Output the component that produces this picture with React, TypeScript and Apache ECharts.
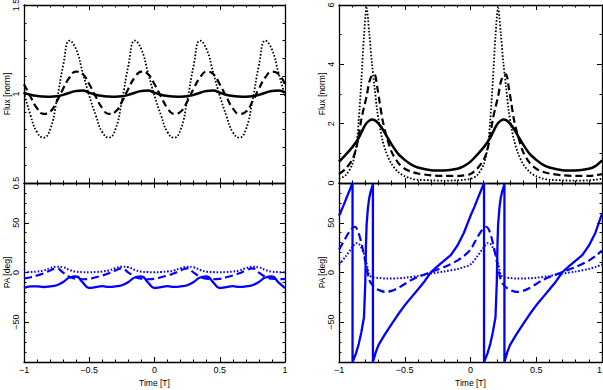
import React, { useEffect, useRef } from "react";
import * as echarts from "echarts";

// ---------- data ----------
const LEFT_T = [
  -1.0, -0.95, -0.9, -0.85, -0.8, -0.75, -0.7, -0.65, -0.6, -0.55,
  -0.5, -0.45, -0.4, -0.35, -0.3, -0.25, -0.2, -0.15, -0.1, -0.05,
  0.0, 0.05, 0.1, 0.15, 0.2, 0.25, 0.3, 0.35, 0.4, 0.45,
  0.5, 0.55, 0.6, 0.65, 0.7, 0.75, 0.8, 0.85, 0.9, 0.95, 1.0,
];
const LT_DOTTED = [
  1.01, 0.88, 0.785, 0.755, 0.8, 0.96, 1.16, 1.3, 1.25, 1.12,
  0.99, 0.88, 0.785, 0.755, 0.8, 0.96, 1.16, 1.3, 1.25, 1.12,
  0.99, 0.88, 0.785, 0.755, 0.8, 0.96, 1.16, 1.3, 1.25, 1.12,
  0.99, 0.88, 0.785, 0.755, 0.8, 0.96, 1.16, 1.3, 1.25, 1.12, 0.99,
];
const LT_DASHED = [
  1.055, 0.985, 0.92, 0.888, 0.9, 0.956, 1.03, 1.094, 1.126, 1.112,
  1.055, 0.985, 0.92, 0.888, 0.9, 0.956, 1.03, 1.094, 1.126, 1.112,
  1.055, 0.985, 0.92, 0.888, 0.9, 0.956, 1.03, 1.094, 1.126, 1.112,
  1.055, 0.985, 0.92, 0.888, 0.9, 0.956, 1.03, 1.094, 1.126, 1.112, 1.055,
];
const LT_SOLID = [
  1.008, 0.996, 0.989, 0.986, 0.985, 0.987, 0.995, 1.007, 1.017, 1.019,
  1.008, 0.996, 0.989, 0.986, 0.985, 0.987, 0.995, 1.007, 1.017, 1.019,
  1.008, 0.996, 0.989, 0.986, 0.985, 0.987, 0.995, 1.007, 1.017, 1.019,
  1.008, 0.996, 0.989, 0.986, 0.985, 0.987, 0.995, 1.007, 1.017, 1.019, 1.008,
];
const LB_DOTTED = [
  0.3, 0.5, 1.0, 2.1, 4.3, 5.8, 5.2, 2.5, 0.8, 0.4,
  0.3, 0.5, 1.0, 2.1, 4.3, 5.8, 5.2, 2.5, 0.8, 0.4,
  0.3, 0.5, 1.0, 2.1, 4.3, 5.8, 5.2, 2.5, 0.8, 0.4,
  0.3, 0.5, 1.0, 2.1, 4.3, 5.8, 5.2, 2.5, 0.8, 0.4, 0.3,
];
const LB_DASHED = [
  -6.0, -4.8, -3.0, -0.8, 2.0, 4.2, -0.2, -4.4, -6.3, -6.8,
  -6.4, -4.8, -3.0, -0.8, 2.0, 4.2, -0.2, -4.4, -6.3, -6.8,
  -6.4, -4.8, -3.0, -0.8, 2.0, 4.2, -0.2, -4.4, -6.3, -6.8,
  -6.4, -4.8, -3.0, -0.8, 2.0, 4.2, -0.2, -4.4, -6.3, -6.8, -6.4,
];
const LB_SOLID = [
  -15.5, -14.0, -13.9, -14.6, -14.0, -12.8, -9.5, -5.0, -4.0, -10.0,
  -15.6, -14.6, -13.8, -14.5, -14.0, -12.8, -9.5, -5.0, -4.0, -10.0,
  -15.6, -14.6, -13.8, -14.5, -14.0, -12.8, -9.5, -5.0, -4.0, -10.0,
  -15.6, -14.6, -13.8, -14.5, -14.0, -12.8, -9.5, -5.0, -4.0, -10.0, -15.6,
];

const RT_T = [
  -1.0, -0.95, -0.9, -0.87, -0.85, -0.83, -0.81, -0.79, -0.77, -0.75, -0.73, -0.71,
  -0.69, -0.67, -0.64, -0.6, -0.55, -0.5, -0.45, -0.4, -0.3, -0.2, -0.1, -0.05,
  0.0, 0.05, 0.1, 0.13, 0.15, 0.17, 0.19, 0.21, 0.23, 0.25, 0.27, 0.29,
  0.31, 0.33, 0.36, 0.4, 0.45, 0.5, 0.55, 0.6, 0.7, 0.8, 0.9, 0.95, 1.0,
];
const RT_DOTTED = [
  0.14, 0.26, 0.62, 1.2, 2.1, 3.45, 4.95, 5.9, 5.05, 4.05, 3.25, 2.45,
  1.9, 1.46, 1.02, 0.64, 0.37, 0.23, 0.15, 0.11, 0.09, 0.08, 0.09, 0.11,
  0.14, 0.26, 0.62, 1.2, 2.1, 3.45, 4.95, 5.9, 5.05, 4.05, 3.25, 2.45,
  1.9, 1.46, 1.02, 0.64, 0.37, 0.23, 0.15, 0.11, 0.09, 0.08, 0.09, 0.11, 0.14,
];
const RT_DASHED = [
  0.3, 0.48, 0.78, 1.15, 1.6, 2.15, 2.55, 2.92, 3.4, 3.62, 3.66, 3.25,
  2.7, 2.15, 1.6, 1.05, 0.68, 0.48, 0.38, 0.32, 0.26, 0.24, 0.24, 0.26,
  0.3, 0.48, 0.78, 1.15, 1.6, 2.15, 2.55, 2.92, 3.4, 3.62, 3.66, 3.25,
  2.7, 2.15, 1.6, 1.05, 0.68, 0.48, 0.38, 0.32, 0.26, 0.24, 0.24, 0.26, 0.3,
];
const RT_SOLID = [
  0.72, 0.95, 1.2, 1.38, 1.52, 1.7, 1.88, 2.02, 2.1, 2.14, 2.12, 2.05,
  1.95, 1.83, 1.6, 1.3, 0.98, 0.78, 0.62, 0.52, 0.43, 0.42, 0.48, 0.57,
  0.72, 0.95, 1.2, 1.38, 1.52, 1.7, 1.88, 2.02, 2.1, 2.14, 2.12, 2.05,
  1.95, 1.83, 1.6, 1.3, 0.98, 0.78, 0.62, 0.52, 0.43, 0.42, 0.48, 0.57, 0.76,
];

const RB_SOLID_T = [
  -1.0, -0.97, -0.94, -0.92, -0.897, -0.897, -0.885, -0.87, -0.85, -0.83, -0.81, -0.8,
  -0.795, -0.79, -0.78, -0.77, -0.76, -0.75, -0.742, -0.742, -0.72, -0.7, -0.65, -0.6,
  -0.55, -0.5, -0.45, -0.4, -0.35, -0.3, -0.25, -0.2, -0.15, -0.1, -0.05,
  0.0, 0.03, 0.06, 0.08, 0.103, 0.103, 0.115, 0.13, 0.15, 0.17, 0.19, 0.2,
  0.205, 0.21, 0.22, 0.23, 0.24, 0.25, 0.258, 0.258, 0.28, 0.3, 0.35, 0.4,
  0.45, 0.5, 0.55, 0.6, 0.65, 0.7, 0.75, 0.8, 0.85, 0.9, 0.95, 1.0,
];
const RB_SOLID = [
  57, 66, 76, 82.5, 90, -90, -86, -81, -72, -60, -45, -10,
  28, 48, 65, 75, 81, 85, 89, -90, -80, -73, -62, -52,
  -42, -33, -25, -17, -9, 0.5, 6.5, 12, 17.5, 27, 40,
  57, 66, 76, 82.5, 90, -90, -86, -81, -72, -60, -45, -10,
  28, 48, 65, 75, 81, 85, 89, -90, -80, -73, -62, -52,
  -42, -33, -25, -17, -9, 0.5, 6.5, 12, 17.5, 27, 40, 59,
];
const RB_DASHED_T = [
  -1.0, -0.97, -0.94, -0.91, -0.88, -0.86, -0.84, -0.82, -0.8, -0.79, -0.78, -0.77, -0.75, -0.72,
  -0.69, -0.65, -0.6, -0.55, -0.5, -0.45, -0.4, -0.35, -0.3, -0.25, -0.2, -0.15, -0.1, -0.05,
  0.0, 0.03, 0.06, 0.09, 0.12, 0.14, 0.16, 0.18, 0.2, 0.21, 0.22, 0.23, 0.25, 0.28,
  0.31, 0.35, 0.4, 0.45, 0.5, 0.55, 0.6, 0.65, 0.7, 0.75, 0.8, 0.85, 0.9, 0.95, 1.0,
];
const RB_DASHED = [
  23, 30, 37, 43, 46, 43, 35, 24, 11, 5, -2, -7.5, -12, -16,
  -18, -19.5, -18.5, -15.5, -11.5, -7.5, -4.5, -2, 0.5, 3, 5.5, 8.5, 12, 16.5,
  23, 30, 37, 43, 46, 43, 35, 24, 11, 5, -2, -7.5, -12, -16,
  -18, -19.5, -18.5, -15.5, -11.5, -7.5, -4.5, -2, 0.5, 3, 5.5, 8.5, 12, 16.5, 22,
];
const RB_DOTTED_T = [
  -1.0, -0.95, -0.9, -0.87, -0.85, -0.83, -0.81, -0.79, -0.78, -0.77, -0.75,
  -0.7, -0.65, -0.6, -0.55, -0.5, -0.4, -0.3, -0.2, -0.1, -0.05,
  0.0, 0.05, 0.1, 0.13, 0.15, 0.17, 0.19, 0.21, 0.22, 0.23, 0.25,
  0.3, 0.35, 0.4, 0.45, 0.5, 0.6, 0.7, 0.8, 0.9, 0.95, 1.0,
];
const RB_DOTTED = [
  8, 16, 25, 29.5, 29, 25, 19, 9, 3, -2.5, -4.5,
  -5.5, -6, -6, -5.8, -5.3, -3.5, -1, 1, 3.5, 5.5,
  8, 16, 25, 29.5, 29, 25, 19, 9, 3, -2.5, -4.5,
  -5.5, -6, -6, -5.8, -5.3, -3.5, -1, 1, 3.5, 5.5, 8,
];

const X_LABELS = [-1, -0.5, 0, 0.5, 1];
const FLUX_L_LABELS = [0.5, 1, 1.5];
const FLUX_R_LABELS = [0, 2, 4, 6];
const PA_LABELS = [-50, 0, 50];

// ---------- styling ----------
const FONT = "'Liberation Sans', Arial, Helvetica, sans-serif";
const BLACK = "#000000";
const BLUE = "#0000ff";
const DASH = [7, 4];
const DOT = [1.6, 1.8];

const fmt = (v: number) => String(v).replace("-", "\u2212");
const pairs = (t: number[], v: number[]) => t.map((x, i) => [x, v[i]]);

const GRIDS = [
  { left: 24, top: 5, width: 261, height: 178 },
  { left: 24, top: 183, width: 261, height: 179 },
  { left: 339, top: 5, width: 263, height: 178 },
  { left: 339, top: 183, width: 263, height: 179 },
];

const frame = { show: true, onZero: false, lineStyle: { color: BLACK, width: 1.3 } };
const labelStyle = { fontSize: 9, fontFamily: FONT, color: BLACK };
const nameStyle = { fontSize: 8.5, fontFamily: FONT, color: BLACK };

function buildOption() {
  const xAxis: any[] = [];
  GRIDS.forEach((_, g) => {
    const bottomPanel = g === 1 || g === 3;
    const base = {
      type: "value",
      gridIndex: g,
      min: -1,
      max: 1,
      interval: 0.5,
      axisLine: frame,
      axisTick: { show: true, inside: true, length: 5, lineStyle: { color: BLACK, width: 1 } },
      minorTick: { show: true, splitNumber: 5, length: 2.5, lineStyle: { color: BLACK, width: 1 } },
      splitLine: { show: false },
      minorSplitLine: { show: false },
    };
    xAxis.push({
      ...base,
      position: "bottom",
      axisLabel: {
        show: bottomPanel,
        ...labelStyle,
        margin: 3,
        showMinLabel: true,
        showMaxLabel: true,
        alignMaxLabel: g === 3 ? "right" : undefined,
        formatter: (v: number) => (X_LABELS.indexOf(v) >= 0 ? fmt(v) : ""),
      },
      name: bottomPanel ? "Time [T]" : "",
      nameLocation: "middle",
      nameGap: 16,
      nameTextStyle: nameStyle,
      nameMoveOverlap: false,
    });
    xAxis.push({ ...base, position: "top", axisLabel: { show: false } });
  });

  const fluxAxis = (g: number, min: number, max: number, interval: number, split: number, labels: number[]) => {
    const base = {
      type: "value",
      gridIndex: g,
      min,
      max,
      interval,
      axisLine: frame,
      axisTick: { show: true, inside: true, length: 5, lineStyle: { color: BLACK, width: 1 } },
      minorTick: { show: true, splitNumber: split, length: 2.5, lineStyle: { color: BLACK, width: 1 } },
      splitLine: { show: false },
      minorSplitLine: { show: false },
    };
    return [
      {
        ...base,
        position: "left",
        axisLabel: {
          show: true,
          ...labelStyle,
          rotate: 90,
          margin: 4,
          showMinLabel: true,
          showMaxLabel: true,
          formatter: (v: number) => (labels.indexOf(v) >= 0 ? fmt(v) : ""),
        },
        name: "Flux [norm]",
        nameLocation: "middle",
        nameRotate: 90,
        nameGap: 13,
        nameTextStyle: nameStyle,
        nameMoveOverlap: false,
      },
      { ...base, position: "right", axisLabel: { show: false } },
    ];
  };

  const paAxes = (g: number) => {
    const base = {
      type: "value",
      gridIndex: g,
      min: -90,
      max: 90,
      interval: 10,
      axisLine: frame,
      axisTick: { show: true, inside: true, length: 2.5, lineStyle: { color: BLACK, width: 1 } },
      splitLine: { show: false },
    };
    const major = {
      type: "value",
      gridIndex: g,
      min: -90,
      max: 90,
      interval: 10,
      axisLine: { show: false, onZero: false },
      axisTick: { show: true, inside: true, length: 5, customValues: PA_LABELS, lineStyle: { color: BLACK, width: 1 } },
      axisLabel: { show: false },
      splitLine: { show: false },
    };
    return [
      {
        ...base,
        position: "left",
        axisLabel: {
          show: true,
          ...labelStyle,
          rotate: 90,
          margin: 4,
          formatter: (v: number) => (PA_LABELS.indexOf(v) >= 0 ? fmt(v) : ""),
        },
        name: "PA [deg]",
        nameLocation: "middle",
        nameRotate: 90,
        nameGap: 13,
        nameTextStyle: nameStyle,
        nameMoveOverlap: false,
      },
      { ...base, position: "right", axisLabel: { show: false } },
      { ...major, position: "left" },
      { ...major, position: "right" },
    ];
  };

  // y axis indices: 0,1 LT | 2..5 LB | 6,7 RT | 8..11 RB
  const yAxis = [
    ...fluxAxis(0, 0.5, 1.5, 0.5, 5, FLUX_L_LABELS),
    ...paAxes(1),
    ...fluxAxis(2, 0, 6, 2, 2, FLUX_R_LABELS),
    ...paAxes(3),
  ];

  const line = (data: number[][], xi: number, yi: number, color: string, width: number, type: any, smooth: any) => ({
    type: "line",
    xAxisIndex: xi,
    yAxisIndex: yi,
    data,
    showSymbol: false,
    symbol: "none",
    smooth,
    silent: true,
    lineStyle: { color, width, type, cap: "butt" },
  });

  const series = [
    line(pairs(LEFT_T, LT_DOTTED), 0, 0, BLACK, 1.8, DOT, true),
    line(pairs(LEFT_T, LT_DASHED), 0, 0, BLACK, 2.2, DASH, true),
    line(pairs(LEFT_T, LT_SOLID), 0, 0, BLACK, 2.5, "solid", true),
    line(pairs(LEFT_T, LB_DOTTED), 2, 2, BLUE, 2, DOT, true),
    line(pairs(LEFT_T, LB_DASHED), 2, 2, BLUE, 2.2, [8, 4], true),
    line(pairs(LEFT_T, LB_SOLID), 2, 2, BLUE, 2.3, "solid", true),
    line(pairs(RT_T, RT_DOTTED), 4, 6, BLACK, 1.8, DOT, 0.3),
    line(pairs(RT_T, RT_DASHED), 4, 6, BLACK, 2.2, DASH, 0.3),
    line(pairs(RT_T, RT_SOLID), 4, 6, BLACK, 2.5, "solid", 0.3),
    line(pairs(RB_DOTTED_T, RB_DOTTED), 6, 8, BLUE, 2, DOT, 0.3),
    line(pairs(RB_DASHED_T, RB_DASHED), 6, 8, BLUE, 2.2, [8, 4], 0.3),
    line(pairs(RB_SOLID_T, RB_SOLID), 6, 8, BLUE, 2.3, "solid", false),
  ];

  return {
    animation: false,
    backgroundColor: "#ffffff",
    grid: GRIDS.map((g) => ({ ...g, containLabel: false, outerBoundsMode: "none" })),
    xAxis,
    yAxis,
    series,
  };
}

export default function App() {
  const ref = useRef<HTMLDivElement>(null);
  useEffect(() => {
    if (!ref.current) return;
    const chart = echarts.init(ref.current, null, { renderer: "svg" });
    chart.setOption(buildOption() as any);
    return () => chart.dispose();
  }, []);
  return (
    <div
      ref={ref}
      style={{ position: "absolute", left: 0, top: 0, width: 603, height: 390, background: "#fff" }}
    />
  );
}
